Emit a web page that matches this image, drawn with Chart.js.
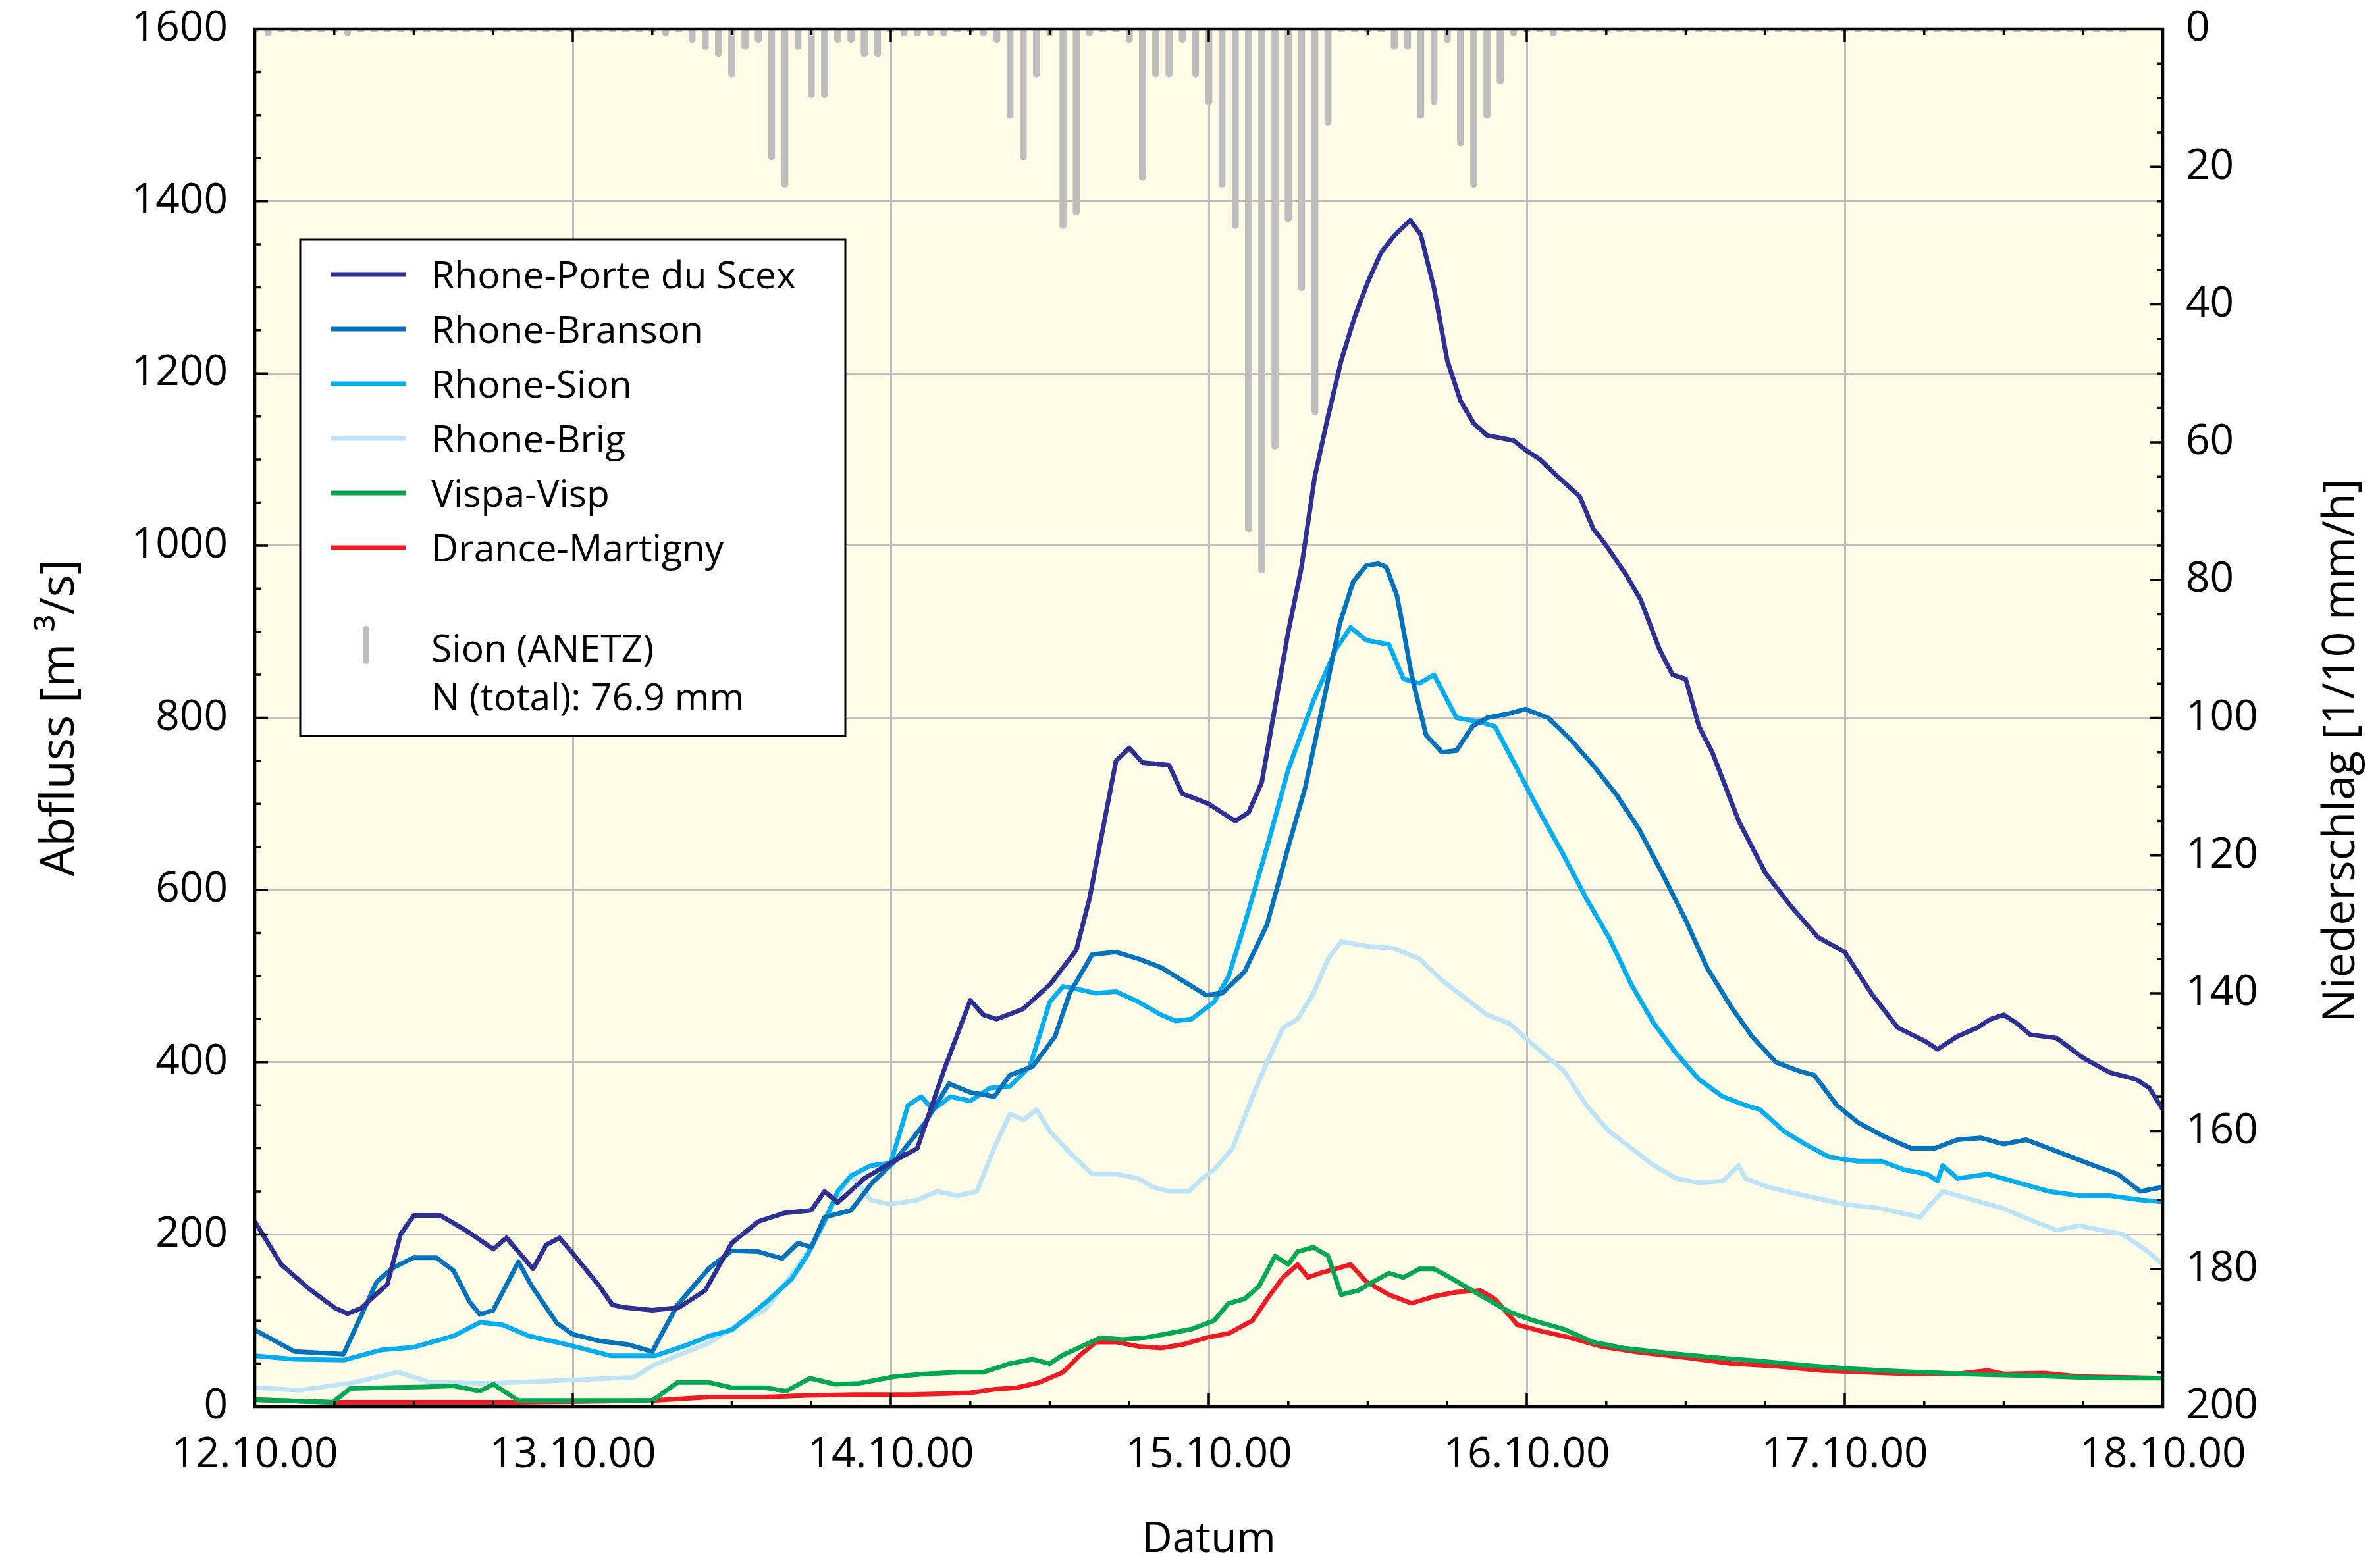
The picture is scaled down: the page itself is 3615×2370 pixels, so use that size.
<!DOCTYPE html>
<html>
<head>
<meta charset="utf-8">
<script src="https://cdn.jsdelivr.net/npm/chart.js@4.4.1/dist/chart.umd.min.js"></script>
<style>
  html, body { margin: 0; padding: 0; background: #fff; }
</style>
</head>
<body>
<canvas id="chart" width="3615" height="2370"></canvas>
<script>
// x axis: hours since 12.10.00 00:00, one label per day
const dayLabels = ['12.10.00', '13.10.00', '14.10.00', '15.10.00', '16.10.00', '17.10.00', '18.10.00'];

// Sion (ANETZ) hourly precipitation [1/10 mm/h], hour 0..143
const rainSion = [
  0, 1, 0, 0, 0, 0, 0, 1, 0, 0, 0, 0, 0, 0, 0, 0, 0, 0, 0, 0, 0, 0, 0, 0,
  0, 0, 0, 0, 0, 0, 0, 1, 0, 2, 3, 4, 7, 3, 2, 19, 23, 3, 10, 10, 2, 2, 4, 4,
  0, 1, 1, 1, 1, 0, 0, 1, 2, 13, 19, 7, 1, 29, 27, 1, 0, 0, 2, 22, 7, 7, 2, 7,
  11, 23, 29, 73, 79, 61, 28, 38, 56, 14, 0, 0, 0, 0, 3, 3, 13, 11, 2, 17, 23, 13,
  8, 1, 0, 0, 1, 0, 0, 0, 0, 0, 0, 0, 0, 0, 0, 0, 0, 0, 0, 0, 0, 0, 0, 0,
  0, 0, 0, 0, 0, 0, 0, 0, 0, 0, 0, 0, 0, 0, 0, 0, 0, 0, 0, 0, 0, 0, 0, 0
];
const rainTotal = 'N (total): 76.9 mm';

// discharge [m3/s] as [hour, value]
const porteDuScex = [
  [0, 215], [2, 165], [4, 138], [6, 115], [7, 108], [8, 114], [10, 142], [11, 200], [12, 222], [14, 222],
  [16, 204], [18, 183], [19, 196], [20, 178], [21, 160], [22, 188], [23, 196], [24, 178], [26, 140], [27, 118],
  [28, 115], [30, 112], [32, 115], [34, 135], [36, 190], [38, 215], [40, 225], [42, 228], [43, 250], [44, 237],
  [46, 265], [48, 283], [50, 300], [52, 390], [54, 472], [55, 455], [56, 450], [58, 462], [60, 490], [62, 530],
  [63, 590], [65, 750], [66, 765], [67, 748], [69, 745], [70, 712], [72, 700], [74, 680], [75, 690], [76, 725],
  [78, 900], [79, 975], [80, 1080], [81, 1150], [82, 1215], [83, 1265], [84, 1306], [85, 1340], [86, 1360], [87.2, 1378],
  [88, 1361], [89, 1299], [90, 1215], [91, 1168], [92, 1142], [93, 1128], [95, 1122], [96, 1110], [97, 1100], [98, 1085],
  [100, 1057], [101, 1020], [102, 1000], [103.5, 966], [104.6, 937], [106, 880], [107, 850], [108, 845], [109, 790], [110, 760],
  [112, 680], [114, 620], [116, 580], [118, 545], [120, 528], [122, 480], [124, 440], [126, 425], [127, 415], [128.5, 430],
  [130, 440], [131, 450], [132, 455], [133, 445], [134, 432], [136, 428], [138, 405], [140, 388], [142, 380], [143, 370], [144, 345]
];
const branson = [
  [0, 89], [3, 64], [6.7, 61], [9.2, 145], [10.4, 161], [12, 173], [13.7, 173], [15, 158], [16.2, 122], [17, 107],
  [18, 112], [19.9, 168], [20.9, 140], [22.8, 97], [24, 84], [26.1, 76], [28.2, 72], [30, 64], [31.9, 118], [34.3, 161],
  [36, 181], [38, 180], [39.8, 172], [41, 190], [42, 185], [43, 220], [45, 228], [46.6, 260], [48.3, 285], [50.6, 330],
  [52.4, 375], [54, 365], [55.8, 360], [57, 385], [58.7, 395], [60.4, 430], [61.5, 480], [63.2, 525], [65, 528], [66.7, 520],
  [68.4, 510], [70, 495], [71.8, 478], [73, 480], [74.7, 505], [76.4, 560], [78, 650], [79.3, 720], [80.4, 800], [81.9, 910],
  [82.9, 958], [83.9, 977], [84.8, 979], [85.4, 975], [86.2, 942], [86.6, 910], [87.3, 850], [88.4, 780], [89.6, 760], [90.7, 762],
  [91.9, 790], [93, 800], [94.7, 805], [95.9, 810], [97.6, 800], [99.3, 775], [101, 745], [102.8, 710], [104.5, 670], [106.2, 620],
  [108, 565], [109.6, 510], [111.4, 465], [113, 430], [114.8, 400], [116.5, 390], [117.7, 385], [119.4, 350], [121, 330], [122.8, 315],
  [125, 300], [126.8, 300], [128.5, 310], [130.3, 312], [132, 305], [133.7, 310], [135.4, 300], [137.1, 290], [138.8, 280], [140.6, 270],
  [142.3, 250], [144, 255]
];
const sion = [
  [0, 59], [3, 55], [6.7, 54], [9.6, 66], [12, 69], [15, 82], [17, 98], [18.7, 95], [20.7, 82], [23.6, 72],
  [26.9, 59], [30.2, 59], [32.7, 72], [34.3, 82], [36, 89], [38.5, 120], [40.5, 148], [41.7, 176], [43, 215], [44, 250],
  [45, 268], [46.5, 280], [48, 283], [49.3, 350], [50.3, 360], [51.2, 345], [52.5, 360], [54, 355], [55.5, 370], [57, 372],
  [58.5, 395], [60, 470], [61, 488], [62, 485], [63.5, 480], [65, 482], [66.7, 470], [68.4, 455], [69.5, 448], [70.7, 450],
  [72.4, 470], [73.5, 500], [74.7, 560], [76.4, 650], [78, 740], [79.9, 820], [81.6, 880], [82.7, 905], [83.9, 890], [85.6, 885],
  [86.7, 845], [87.9, 840], [89, 850], [90.7, 800], [92.5, 795], [93.6, 790], [95.3, 740], [97, 690], [98.8, 640], [100.5, 590],
  [102.2, 545], [103.9, 490], [105.6, 445], [107.3, 410], [109, 380], [110.8, 360], [112.5, 350], [113.6, 345], [115.4, 320], [117, 305],
  [118.8, 290], [121, 285], [122.8, 285], [124.5, 275], [126.2, 270], [127, 262], [127.4, 280], [128.5, 265], [130.8, 270], [133.1, 260],
  [135.4, 250], [137.7, 245], [140, 245], [142.3, 240], [144, 238]
];
const brig = [
  [0, 22], [3.4, 19], [7.5, 28], [10.8, 40], [13.3, 28], [17.8, 27], [24, 31], [28.6, 34], [30.2, 49], [34.3, 74],
  [36.4, 95], [38.5, 112], [40.5, 153], [41.7, 179], [43.5, 230], [45, 270], [46.5, 240], [48, 235], [50, 240], [51.5, 250],
  [53, 245], [54.5, 250], [55.8, 300], [57, 340], [58, 333], [59, 345], [60, 320], [61.5, 295], [63.2, 270], [65, 270],
  [66.7, 265], [67.8, 255], [69, 250], [70.5, 250], [71.5, 265], [72.4, 275], [73.8, 300], [75.3, 360], [76.4, 400], [77.6, 440],
  [78.7, 450], [79.9, 480], [81, 520], [82, 540], [83.9, 535], [86, 532], [87.9, 520], [89.6, 495], [91.3, 475], [93, 455],
  [94.7, 445], [96.5, 420], [98.8, 390], [100.5, 350], [102.2, 320], [103.9, 300], [105.6, 280], [107.3, 265], [109, 260], [110.8, 262],
  [112, 280], [112.5, 265], [114.2, 255], [117, 245], [120, 235], [122.8, 230], [125.7, 220], [126.5, 235], [127.4, 250], [129.7, 240],
  [132, 230], [134.3, 215], [136, 205], [137.7, 210], [139.4, 205], [141, 200], [142.9, 180], [144, 165]
];
const vispa = [
  [0, 8], [5.9, 5], [7.2, 21], [9.6, 22], [12.9, 23], [15, 24], [17, 18], [18, 26], [19.9, 7], [24, 7],
  [30, 7], [31.9, 28], [34.3, 28], [36, 22], [38.5, 22], [40.1, 18], [41.9, 33], [43.8, 26], [45.6, 27], [48.3, 35],
  [50.6, 38], [53, 40], [55, 40], [57, 50], [58.7, 55], [60, 50], [61, 60], [62.7, 72], [63.8, 80], [65.5, 78],
  [67.2, 80], [69, 85], [70.7, 90], [72.4, 100], [73.5, 120], [74.7, 125], [75.8, 140], [77, 175], [78, 165], [78.7, 180],
  [79.9, 185], [81, 175], [82, 130], [83.3, 135], [84.4, 145], [85.6, 155], [86.7, 150], [87.9, 160], [89, 160], [90.2, 150],
  [91.3, 140], [93, 125], [94.7, 110], [96.5, 100], [98.8, 90], [101, 75], [103.3, 68], [106.8, 62], [110.2, 57], [113.6, 53],
  [117, 48], [120.5, 44], [124, 41], [127.4, 39], [130.8, 37], [134.3, 36], [137.7, 34], [141, 33], [144, 33]
];
const drance = [
  [0, 8], [6, 5], [20, 5], [30, 7], [34.3, 11], [38.5, 11], [41.7, 13], [45.4, 14], [49.5, 14], [51.8, 15],
  [54, 16], [55.8, 20], [57.5, 22], [59.2, 28], [61, 40], [62.3, 60], [63.5, 75], [65, 75], [66.7, 70], [68.4, 68],
  [70, 72], [71.8, 80], [73.5, 85], [75.3, 100], [76.4, 125], [77.6, 150], [78.7, 165], [79.5, 150], [80.4, 155], [81.6, 160],
  [82.7, 165], [83.9, 145], [85.6, 130], [87.3, 120], [89, 128], [90.7, 133], [92.5, 135], [93.6, 125], [95.3, 95], [97, 88],
  [99.3, 80], [101.6, 70], [104.5, 63], [108, 57], [111.4, 50], [114.8, 47], [118.2, 42], [121.7, 40], [125, 38], [128.5, 38],
  [130.8, 42], [132, 38], [135, 39], [137.7, 35], [141, 34], [144, 33]
];

const FONT = "'Open Sans', sans-serif";
Chart.defaults.font.family = FONT;
Chart.defaults.color = '#000';

function lineSet(label, points, color, order) {
  return {
    type: 'line',
    label: label,
    data: points.map(p => ({ x: p[0], y: p[1] })),
    borderColor: color,
    backgroundColor: color,
    borderWidth: 7,
    pointRadius: 0,
    tension: 0,
    borderJoinStyle: 'round',
    yAxisID: 'y',
    order: order
  };
}

// keep the plot area fixed: no extra room for half tick labels
function fixVertical(width) {
  return s => { s.width = width; s.paddingTop = 0; s.paddingBottom = 0; };
}

const bgPlugin = {
  id: 'plotBg',
  beforeDraw(chart) {
    const { ctx, chartArea: a } = chart;
    ctx.save();
    ctx.fillStyle = '#FEFBE7';
    ctx.fillRect(a.left, a.top, a.right - a.left, a.bottom - a.top);
    ctx.restore();
  }
};

const framePlugin = {
  id: 'frame',
  afterDatasetsDraw(chart) {
    const { ctx, chartArea: a, scales } = chart;
    ctx.save();
    ctx.strokeStyle = '#000';
    ctx.lineWidth = 3.5;
    ctx.beginPath();
    for (let h = 0; h <= 144; h += 6) {
      const px = scales.x.getPixelForValue(h);
      const len = h % 24 === 0 ? 20 : 9;
      ctx.moveTo(px, a.bottom); ctx.lineTo(px, a.bottom - len);
      ctx.moveTo(px, a.top); ctx.lineTo(px, a.top + len);
    }
    for (let v = 0; v <= 1600; v += 50) {
      const py = scales.y.getPixelForValue(v);
      ctx.moveTo(a.left, py); ctx.lineTo(a.left + (v % 200 === 0 ? 20 : 9), py);
    }
    for (let v = 0; v <= 200; v += 5) {
      const py = scales.y2.getPixelForValue(v);
      ctx.moveTo(a.right, py); ctx.lineTo(a.right - (v % 20 === 0 ? 20 : 9), py);
    }
    ctx.stroke();
    ctx.lineWidth = 4.5;
    ctx.strokeRect(a.left, a.top, a.right - a.left, a.bottom - a.top);

    // legend box inside the plot
    const bx = a.left + 69, by = a.top + 320, bw = 828, bh = 754;
    ctx.fillStyle = '#fff';
    ctx.fillRect(bx, by, bw, bh);
    ctx.lineWidth = 3;
    ctx.strokeRect(bx, by, bw, bh);
    ctx.font = '57px ' + FONT;
    ctx.textBaseline = 'middle';
    ctx.textAlign = 'left';
    const lines = chart.data.datasets.filter(d => d.type === 'line');
    lines.forEach((d, i) => {
      const y = by + 53 + i * 83;
      ctx.strokeStyle = d.borderColor;
      ctx.lineWidth = 7;
      ctx.beginPath();
      ctx.moveTo(bx + 47, y); ctx.lineTo(bx + 160, y);
      ctx.stroke();
      ctx.fillStyle = '#000';
      ctx.fillText(d.label, bx + 199, y + 5);
    });
    const rain = chart.data.datasets.find(d => d.type === 'bar');
    ctx.strokeStyle = rain.backgroundColor;
    ctx.lineWidth = 10;
    ctx.lineCap = 'round';
    ctx.beginPath();
    ctx.moveTo(bx + 100, by + 592); ctx.lineTo(bx + 100, by + 640);
    ctx.stroke();
    ctx.fillStyle = '#000';
    ctx.fillText(rain.label, bx + 199, by + 625);
    ctx.fillText(rainTotal, bx + 199, by + 699);

    // right axis title reads bottom to top
    ctx.font = '68px ' + FONT;
    ctx.textAlign = 'center';
    ctx.translate(3557, (a.top + a.bottom) / 2 + 50);
    ctx.rotate(-Math.PI / 2);
    ctx.fillText('Niederschlag [1/10 mm/h]', 0, 0);
    ctx.restore();
  }
};

new Chart(document.getElementById('chart'), {
  data: {
    datasets: [
      lineSet('Rhone-Porte du Scex', porteDuScex, '#2E3192', 3),
      lineSet('Rhone-Branson', branson, '#0072BC', 4),
      lineSet('Rhone-Sion', sion, '#00AEEF', 5),
      lineSet('Rhone-Brig', brig, '#BDE3F7', 6),
      lineSet('Vispa-Visp', vispa, '#00A651', 1),
      lineSet('Drance-Martigny', drance, '#ED1C24', 2),
      {
        type: 'bar',
        label: 'Sion (ANETZ)',
        data: rainSion.map((v, i) => ({ x: i, y: v })),
        backgroundColor: '#BEBEBE',
        barThickness: 10,
        minBarLength: 9,
        borderRadius: 5,
        borderSkipped: 'start',
        yAxisID: 'y2',
        order: 10
      }
    ]
  },
  options: {
    responsive: false,
    animation: false,
    devicePixelRatio: 1,
    layout: { padding: { top: 44, left: 0, right: 0, bottom: 0 } },
    plugins: { legend: { display: false }, tooltip: { enabled: false } },
    scales: {
      x: {
        type: 'linear',
        min: 0,
        max: 144,
        offset: false,
        afterFit: s => { s.height = 233; },
        grid: { color: '#BDBDBD', lineWidth: 3, drawTicks: false, offset: false },
        border: { display: false },
        ticks: {
          stepSize: 24,
          autoSkip: false,
          maxRotation: 0,
          padding: 35,
          font: { size: 64 },
          callback: v => dayLabels[v / 24]
        },
        title: { display: true, text: 'Datum', font: { size: 64 }, padding: { top: 0, bottom: -8 } }
      },
      y: {
        position: 'left',
        min: 0,
        max: 1600,
        afterFit: fixVertical(387),
        grid: { color: '#BDBDBD', lineWidth: 3, drawTicks: false },
        border: { display: false },
        ticks: { stepSize: 200, padding: 41, font: { size: 64 }, callback: v => String(v) },
        title: { display: true, text: 'Abfluss [m ³/s]', font: { size: 72 }, padding: { top: 48, bottom: 0 } }
      },
      y2: {
        position: 'right',
        min: 0,
        max: 200,
        reverse: true,
        afterFit: fixVertical(330),
        grid: { display: false, drawTicks: false },
        border: { display: false },
        ticks: { stepSize: 20, padding: 35, font: { size: 64 }, callback: v => String(v) }
      }
    }
  },
  plugins: [bgPlugin, framePlugin]
});
</script>
</body>
</html>
